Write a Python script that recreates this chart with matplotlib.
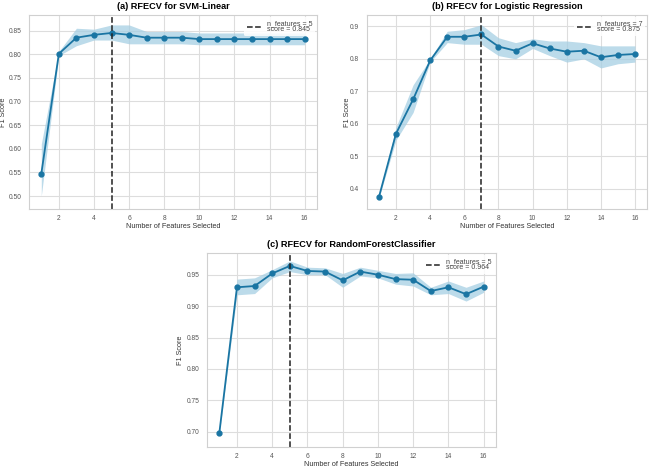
import matplotlib
matplotlib.use("Agg")
import matplotlib.pyplot as plt
import numpy as np

plt.rcParams['font.family'] = ['Liberation Sans', 'DejaVu Sans']

n_feat = list(range(1, 17))

# (a) SVM-Linear
svm_mean = [0.547, 0.801, 0.835, 0.841, 0.845, 0.841, 0.835, 0.835, 0.835, 0.832,
            0.832, 0.832, 0.832, 0.832, 0.832, 0.832]
svm_lo = [0.500, 0.797, 0.818, 0.830, 0.830, 0.822, 0.822, 0.822, 0.822, 0.820,
          0.820, 0.820, 0.820, 0.820, 0.820, 0.820]
svm_hi = [0.610, 0.806, 0.855, 0.853, 0.862, 0.862, 0.848, 0.848, 0.848, 0.845,
          0.845, 0.845, 0.845, 0.845, 0.845, 0.845]

# (b) Logistic Regression
lr_mean = [0.375, 0.570, 0.675, 0.795, 0.868, 0.868, 0.875, 0.838, 0.825, 0.848,
           0.832, 0.822, 0.825, 0.805, 0.812, 0.815]
lr_lo = [0.372, 0.550, 0.635, 0.790, 0.850, 0.845, 0.845, 0.810, 0.800, 0.832,
         0.810, 0.790, 0.800, 0.772, 0.785, 0.790]
lr_hi = [0.378, 0.590, 0.720, 0.800, 0.885, 0.890, 0.905, 0.865, 0.850, 0.862,
         0.855, 0.855, 0.850, 0.840, 0.840, 0.840]

# (c) RandomForestClassifier
rf_mean = [0.698, 0.930, 0.932, 0.952, 0.964, 0.956, 0.955, 0.941, 0.955, 0.950,
           0.943, 0.942, 0.924, 0.930, 0.919, 0.931]
rf_lo = [0.697, 0.918, 0.920, 0.945, 0.955, 0.950, 0.950, 0.930, 0.948, 0.945,
         0.935, 0.932, 0.918, 0.920, 0.908, 0.922]
rf_hi = [0.699, 0.943, 0.945, 0.958, 0.972, 0.962, 0.961, 0.952, 0.962, 0.957,
         0.952, 0.953, 0.930, 0.940, 0.930, 0.940]

panels = [
    ("(a) RFECV for SVM-Linear", svm_mean, svm_lo, svm_hi, 5, 0.845,
     [29, 15, 317, 209], (0.4725, 0.883), [0.50, 0.55, 0.60, 0.65, 0.70, 0.75, 0.80, 0.85], "%.2f", -0.075),
    ("(b) RFECV for Logistic Regression", lr_mean, lr_lo, lr_hi, 7, 0.875,
     [367, 15, 647, 209], (0.338, 0.935), [0.4, 0.5, 0.6, 0.7, 0.8, 0.9], "%.1f", -0.057),
    ("(c) RFECV for RandomForestClassifier", rf_mean, rf_lo, rf_hi, 5, 0.964,
     [207, 253, 496, 447], (0.6756, 0.9846), [0.70, 0.75, 0.80, 0.85, 0.90, 0.95], "%.2f", -0.08),
]

W, H = 658, 468
fig = plt.figure(figsize=(W / 100, H / 100), dpi=100)
color = '#1a75a3'

for title, mean, lo, hi, nbest, best, box, ylim, yticks, fmt, ylab_x in panels:
    x0, y0, x1, y1 = box
    ax = fig.add_axes([x0 / W, 1 - y1 / H, (x1 - x0) / W, (y1 - y0) / H])
    ax.fill_between(n_feat, lo, hi, color='#a6cfe3', alpha=0.75, lw=0)
    ax.plot(n_feat, mean, '-o', color=color, lw=1.3, ms=3.5)
    ax.axvline(nbest, color='#222222', ls='--', lw=1.1,
               label="n_features = %d\nscore = %.3f" % (nbest, best))
    ax.set_xlim(0.3, 16.7)
    ax.set_ylim(*ylim)
    ax.set_xticks([2, 4, 6, 8, 10, 12, 14, 16])
    ax.set_yticks(yticks)
    ax.set_yticklabels([fmt % v for v in yticks])
    ax.tick_params(labelsize=4.8, colors='#555555', length=0)
    ax.tick_params(axis='y', pad=5.5)
    ax.tick_params(axis='x', pad=4)
    ax.grid(True, color='#dddddd', lw=0.8)
    ax.set_axisbelow(True)
    for s in ax.spines.values():
        s.set_color('#d0d0d0')
        s.set_linewidth(0.8)
    ax.set_title(title, fontsize=6.6, fontweight='bold', pad=4)
    ax.set_xlabel("Number of Features Selected", fontsize=5.2, color='#333333', labelpad=1)
    ax.set_ylabel("F1 Score", fontsize=5.2, color='#333333')
    ax.yaxis.set_label_coords(ylab_x, 0.5)
    leg = ax.legend(loc='upper right', fontsize=5, frameon=True, handlelength=2,
                    borderaxespad=0.3, labelspacing=0.2)
    leg.get_frame().set_edgecolor('none')
    leg.get_frame().set_alpha(0.85)
    for t in leg.get_texts():
        t.set_color('#444444')
        t.set_linespacing(0.9)

fig.savefig("out.png", dpi=100, facecolor='white')
